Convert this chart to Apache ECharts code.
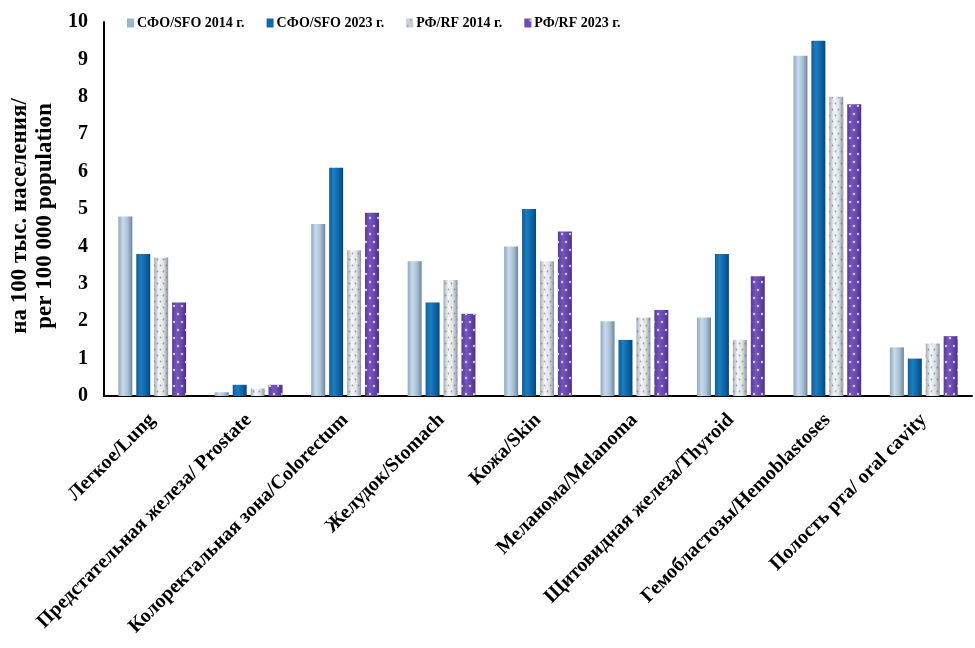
<!DOCTYPE html>
<html><head><meta charset="utf-8">
<script src="https://cdn.jsdelivr.net/npm/echarts@6/dist/echarts.min.js"></script>
<style>html,body{margin:0;padding:0;background:#fff}#c{width:975px;height:648px}</style>
</head><body><div id="c"></div>
<script>
const categories = ['Легкое/Lung','Предстательная железа/ Prostate','Колоректальная зона/Colorectum','Желудок/Stomach','Кожа/Skin','Меланома/Melanoma','Щитовидная железа/Thyroid','Гемобластозы/Hemoblastoses','Полость рта/ oral cavity'];
const seriesNames = ['СФО/SFO 2014 г.','СФО/SFO 2023 г.','РФ/RF 2014 г.','РФ/RF 2023 г.'];
const sfo2014 = [4.8, 0.1, 4.6, 3.6, 4.0, 2.0, 2.1, 9.1, 1.3];
const sfo2023 = [3.8, 0.3, 6.1, 2.5, 5.0, 1.5, 3.8, 9.5, 1.0];
const rf2014  = [3.7, 0.2, 3.9, 3.1, 3.6, 2.1, 1.5, 8.0, 1.4];
const rf2023  = [2.5, 0.3, 4.9, 2.2, 4.4, 2.3, 3.2, 7.8, 1.6];
const yTicks = [0,1,2,3,4,5,6,7,8,9,10];

const font = '"Liberation Serif", "Times New Roman", serif';
function grad(stops){
  return new echarts.graphic.LinearGradient(0,0,1,0, stops.map((c,i)=>({offset:i/(stops.length-1), color:c})));
}
const styles = [
  {color: grad(['#8fa9c0','#c8dbeb','#a7c0d6','#6f879c']), legend:'#9ab6cf'},
  {color: grad(['#0c5f9c','#1f7cc0','#0d66a8','#08467a']), legend:'#0e68aa'},
  {color: grad(['#a6adb4','#f4f6f8','#dfe3e7','#8d959d']), legend:'#c9cfd5',
   decal:{symbol:'circle', symbolSize:0.6, dashArrayX:[[3,3],[0,3,3,0]], dashArrayY:[3,3], color:'rgba(90,100,115,0.55)'}},
  {color: grad(['#5a3a9e','#7656bd','#6647ad','#4a2f88']), legend:'#6a4bb0',
   decal:{symbol:'circle', symbolSize:0.6, dashArrayX:[[4,4],[0,4,4,0]], dashArrayY:[4,4], color:'rgba(255,255,255,0.7)'}}
];
const data = [sfo2014, sfo2023, rf2014, rf2023];

const chart = echarts.init(document.getElementById('c'), null, {renderer:'canvas'});
chart.setOption({
  animation:false,
  backgroundColor:'#fff',
  legend:{
    top:11, left:122, itemWidth:7, itemHeight:9, itemGap:22,
    icon:'rect',
    textStyle:{fontFamily:font, fontWeight:'bold', fontSize:14, color:'#000', padding:[0,0,0,-2]},
    data: seriesNames.map((n,i)=>({name:n, itemStyle:{color:styles[i].legend}}))
  },
  grid:{left:104, right:3, top:22, bottom:252, containLabel:false, outerBoundsMode:'none'},
  xAxis:{
    type:'category', data:categories,
    axisLine:{lineStyle:{color:'#000', width:2}},
    axisTick:{show:false},
    axisLabel:{rotate:45, interval:0, margin:21, fontFamily:font, fontWeight:'bold', fontSize:20, color:'#000'}
  },
  yAxis:{
    type:'value', min:0, max:10, interval:1,
    name:'на 100 тыс. населения/\nper 100 000 population',
    nameLocation:'middle', nameGap:44, nameRotate:90,
    nameTextStyle:{fontFamily:font, fontWeight:'bold', fontSize:23, color:'#000', lineHeight:25, padding:[0,14,0,0]},
    axisLine:{show:true, lineStyle:{color:'#000', width:2}},
    axisTick:{show:false},
    splitLine:{show:false},
    axisLabel:{fontFamily:font, fontWeight:'bold', fontSize:20, color:'#000', margin:16,
      formatter:v=>yTicks.includes(v)?String(v):''}
  },
  series: data.map((d,i)=>({
    name:seriesNames[i], type:'bar', data:d,
    barWidth:14, barGap:'28%',
    itemStyle:{color:styles[i].color, decal:styles[i].decal||null}
  }))
});
</script></body></html>
